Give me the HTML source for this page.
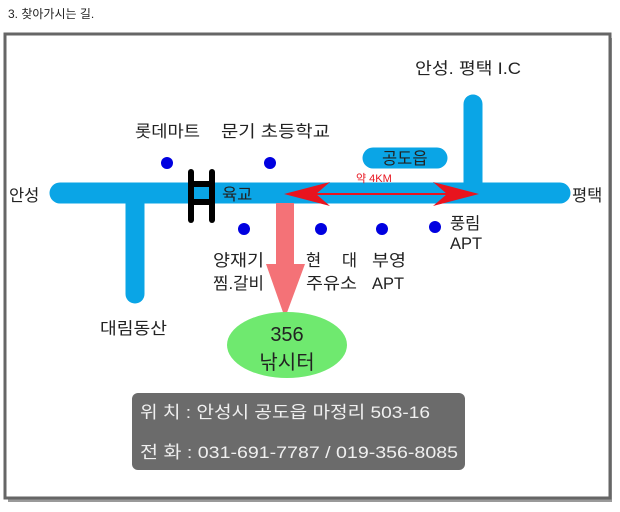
<!DOCTYPE html><html><head><meta charset="utf-8"><style>
body{margin:0;width:620px;height:512px;background:#fff;overflow:hidden;font-family:"Liberation Sans","Noto Sans CJK KR",sans-serif;}
</style></head><body>
<svg width="620" height="512" xmlns="http://www.w3.org/2000/svg" style="position:absolute;left:0;top:0">
<text x="8" y="18" font-size="12" fill="#222" font-family="Liberation Sans,Noto Sans CJK KR,sans-serif">3. 찾아가시는 길.</text>
<rect x="8" y="38" width="604" height="464" fill="#9a9a9a"/>
<rect x="5" y="34" width="605" height="464" fill="#fff" stroke="#666" stroke-width="3"/>
<g stroke="#0aa5e6" stroke-linecap="round" fill="none">
<line x1="60" y1="193" x2="560" y2="193" stroke-width="21"/>
<line x1="135" y1="196" x2="135" y2="294" stroke-width="19"/>
<line x1="473" y1="104" x2="473" y2="190" stroke-width="19"/>
<line x1="373" y1="158" x2="437" y2="158" stroke-width="21"/>
</g>
<g stroke="#000" stroke-width="6" stroke-linecap="round">
<line x1="191" y1="172" x2="191" y2="220"/><line x1="212" y1="172" x2="212" y2="220"/>
<line x1="191" y1="184" x2="212" y2="184"/><line x1="191" y1="202" x2="212" y2="202"/>
</g>
<polygon points="276,203 294,203 294,264 305,264 285,318 266,264 276,264" fill="#f47277"/>
<line x1="300" y1="194" x2="462" y2="194" stroke="#e8141e" stroke-width="2"/>
<polygon points="284,194 330,182 316,194 330,206" fill="#e8141e"/>
<polygon points="479,194 433,182 447,194 433,206" fill="#e8141e"/>
<g fill="#0000e0">
<circle cx="167" cy="163" r="6"/><circle cx="270" cy="163" r="6"/>
<circle cx="244" cy="229" r="6"/><circle cx="321" cy="229" r="6"/><circle cx="382" cy="229" r="6"/><circle cx="435" cy="227" r="6"/>
</g>
<ellipse cx="287" cy="345" rx="60" ry="33" fill="#6fe96f"/>
<rect x="132" y="393" width="333" height="77" rx="6" fill="#6b6b6b"/>
<g font-size="16.5" fill="#222" font-family="Liberation Sans,Noto Sans CJK KR,sans-serif">
<text x="415" y="74" textLength="106" lengthAdjust="spacingAndGlyphs">안성. 평택 I.C</text>
<text x="135" y="137" textLength="65" lengthAdjust="spacingAndGlyphs">롯데마트</text>
<text x="221" y="137" textLength="109" lengthAdjust="spacingAndGlyphs">문기 초등학교</text>
<text x="9" y="201">안성</text>
<text x="572" y="201">평택</text>
<text x="222" y="200">육교</text>
<text x="382" y="164">공도읍</text>
<text x="450" y="229">풍림</text>
<text x="450" y="249">APT</text>
<text x="213" y="266" textLength="51" lengthAdjust="spacingAndGlyphs">양재기</text>
<text x="213" y="289" textLength="51" lengthAdjust="spacingAndGlyphs">찜.갈비</text>
<text x="306" y="266" textLength="51" lengthAdjust="spacing">현 대</text>
<text x="306" y="289" textLength="51" lengthAdjust="spacingAndGlyphs">주유소</text>
<text x="372" y="266" textLength="34" lengthAdjust="spacingAndGlyphs">부영</text>
<text x="372" y="289" textLength="32" lengthAdjust="spacingAndGlyphs">APT</text>
<text x="100" y="334" textLength="67" lengthAdjust="spacingAndGlyphs">대림동산</text>
<text x="287" y="341" text-anchor="middle" font-size="20">356</text>
<text x="287" y="369" text-anchor="middle" font-size="20">낚시터</text>
</g>
<text x="356" y="182" font-size="11" fill="#e8141e" font-family="Liberation Sans,Noto Sans CJK KR,sans-serif">약 4KM</text>
<g font-size="17" fill="#f0f0f0" font-family="Liberation Sans,Noto Sans CJK KR,sans-serif">
<text x="140" y="418" textLength="290" lengthAdjust="spacingAndGlyphs">위 치 : 안성시 공도읍 마정리 503-16</text>
<text x="140" y="458" textLength="318" lengthAdjust="spacingAndGlyphs">전 화 : 031-691-7787 / 019-356-8085</text>
</g>
</svg>
</body></html>
